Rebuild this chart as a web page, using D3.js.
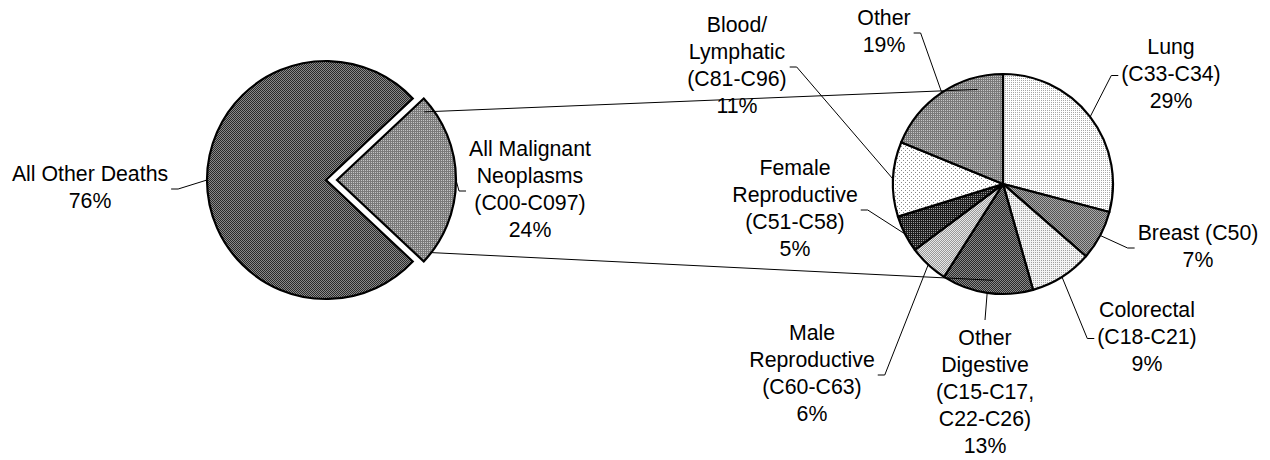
<!DOCTYPE html>
<meta charset='utf-8'>
<body style='margin:0'>
<script src='https://d3js.org/d3.v7.min.js'></script>
<script>
  const width = 1270;
  const height = 460;

  // left pie: all deaths
  const causeNames = [['All Malignant', 'Neoplasms', '(C00-C097)'], ['All Other Deaths']];
  const causeValues = [24, 76];
  const causeFills = ['midGray', 'darkGray'];

  // right pie: malignant neoplasms broken down by site
  const siteNames = [
    ['Lung', '(C33-C34)'],
    ['Breast (C50)'],
    ['Colorectal', '(C18-C21)'],
    ['Other', 'Digestive', '(C15-C17,', 'C22-C26)'],
    ['Male', 'Reproductive', '(C60-C63)'],
    ['Female', 'Reproductive', '(C51-C58)'],
    ['Blood/', 'Lymphatic', '(C81-C96)'],
    ['Other']
  ];
  const siteValues = [29.1, 7.3, 9.2, 13.4, 5.8, 5.4, 11.0, 18.8];
  const siteFills = ['lungDots', 'breastGray', 'colorectalDots', 'darkGray', 'lightChecker', 'veryDark', 'sparseDots', 'midGray'];

  // label placement (center x, first baseline, side the leader attaches to)
  const causeLabelPos = [
    { x: 530, y: 156, side: 'left' },
    { x: 90, y: 181, side: 'right' }
  ];
  const siteLabelPos = [
    { x: 1171, y: 54, side: 'left' },
    { x: 1198, y: 240, side: 'left' },
    { x: 1147, y: 317, side: 'left' },
    { x: 985, y: 345, side: 'top' },
    { x: 812, y: 340, side: 'right' },
    { x: 795, y: 175, side: 'right' },
    { x: 737, y: 32, side: 'right' },
    { x: 884, y: 25, side: 'right' }
  ];

  const left = { cx: 326, cy: 180, r: 119, explode: 11 };
  const right = { cx: 1003, cy: 184, r: 110 };
  const lineHeight = 27;
  const fontSize = 21.3;

  // excel-like pattern fills
  const patterns = {
    darkGray: { size: 2, bg: '#8a8a8a', fg: '#2a2a2a', cells: [[0, 0], [1, 1]] },
    midGray: { size: 2, bg: '#7a7a7a', fg: '#c4c4c4', cells: [[0, 0]] },
    breastGray: { size: 2, bg: '#555555', fg: '#a8a8a8', cells: [[0, 0], [1, 1]] },
    veryDark: { size: 2, bg: '#1e1e1e', fg: '#9a9a9a', cells: [[0, 0]] },
    lightChecker: { size: 2, bg: '#e8e8e8', fg: '#9a9a9a', cells: [[0, 0], [1, 1]] },
    lungDots: { size: 2, bg: '#ffffff', fg: '#a8a8a8', cells: [[0, 0]] },
    colorectalDots: { size: 2, bg: '#f4f4f4', fg: '#a0a0a0', cells: [[0, 0]] },
    sparseDots: { size: 4, bg: '#ffffff', fg: '#888888', cells: [[0, 0], [2, 2]] }
  };

  const rad = d => d * Math.PI / 180;
  const polar = (c, a, r) => [c.cx + r * Math.sin(a), c.cy - r * Math.cos(a)];

  const svg = d3.select('body').append('svg')
    .attr('width', width)
    .attr('height', height)
    .style('font-family', "'Liberation Sans', Arial, sans-serif")
    .style('font-size', fontSize + 'px');

  const defs = svg.append('defs');
  Object.entries(patterns).forEach(([id, p]) => {
    const pat = defs.append('pattern')
      .attr('id', id)
      .attr('patternUnits', 'userSpaceOnUse')
      .attr('width', p.size)
      .attr('height', p.size);
    pat.append('rect')
      .attr('width', p.size)
      .attr('height', p.size)
      .attr('fill', p.bg);
    p.cells.forEach(([x, y]) => {
      pat.append('rect')
        .attr('x', x).attr('y', y)
        .attr('width', 1).attr('height', 1)
        .attr('fill', p.fg);
    });
  });

  // ---- left pie ----
  const causeSpan = rad(360 * causeValues[0] / d3.sum(causeValues));
  const leftPie = d3.pie().sort(null)
    .startAngle(rad(90) - causeSpan / 2)
    .endAngle(rad(90) - causeSpan / 2 + 2 * Math.PI);
  const leftArcs = leftPie(causeValues);
  const leftArc = d3.arc().innerRadius(0).outerRadius(left.r);

  const offsetOf = (d, i) => {
    if (i !== 0) return [0, 0];
    const m = (d.startAngle + d.endAngle) / 2;
    return [left.explode * Math.sin(m), -left.explode * Math.cos(m)];
  };

  svg.append('g')
    .selectAll('path')
    .data(leftArcs)
    .join('path')
      .attr('transform', (d, i) => {
        const o = offsetOf(d, i);
        return `translate(${left.cx + o[0]}, ${left.cy + o[1]})`;
      })
      .attr('d', leftArc)
      .attr('fill', (d, i) => `url(#${causeFills[i]})`)
      .attr('stroke', '#000')
      .attr('stroke-width', 2.2)
      .attr('stroke-linejoin', 'miter');

  // ---- right pie ----
  const rightPie = d3.pie().sort(null);
  const rightArcs = rightPie(siteValues);
  const rightArc = d3.arc().innerRadius(0).outerRadius(right.r);

  svg.append('g')
    .attr('transform', `translate(${right.cx}, ${right.cy})`)
    .selectAll('path')
    .data(rightArcs)
    .join('path')
      .attr('d', rightArc)
      .attr('fill', (d, i) => `url(#${siteFills[i]})`)
      .attr('stroke', '#000')
      .attr('stroke-width', 2.2)
      .attr('stroke-linejoin', 'round');

  // connector lines between the two pies
  const malignant = leftArcs[0];
  const wedge = { cx: left.cx + offsetOf(malignant, 0)[0], cy: left.cy + offsetOf(malignant, 0)[1] };
  const connectors = [
    [polar(wedge, rad(52), left.r * 0.93), polar(right, rad(345), right.r * 0.89)],
    [polar(wedge, rad(128), left.r * 0.99), polar(right, rad(186), right.r * 0.88)]
  ];

  // ---- labels with leader lines ----
  const pctFormat = d3.format('.0%');
  const labels = svg.append('g');
  const leaders = svg.append('g')
    .attr('fill', 'none')
    .attr('stroke', '#000')
    .attr('stroke-width', 1);

  function addLabel(lines, pos, anchor) {
    const t = labels.append('text')
      .attr('text-anchor', 'middle')
      .attr('fill', '#000');
    lines.forEach((s, k) => {
      t.append('tspan')
        .attr('x', pos.x)
        .attr('y', pos.y + k * lineHeight)
        .text(s);
    });
    const w = d3.max(t.selectAll('tspan').nodes(), n => n.getComputedTextLength());
    const top = pos.y - 16;
    const bottom = pos.y + lineHeight * (lines.length - 1) + 5;
    const midY = (top + bottom) / 2;
    let pts;
    if (pos.side === 'left') {
      const x0 = pos.x - w / 2 - 3;
      pts = [anchor, [x0 - 7, midY], [x0, midY]];
    } else if (pos.side === 'right') {
      const x0 = pos.x + w / 2 + 3;
      pts = [anchor, [x0 + 7, midY], [x0, midY]];
    } else {
      pts = [anchor, [pos.x, top - 9]];
    }
    leaders.append('path').attr('d', d3.line()(pts));
  }

  const causeTotal = d3.sum(causeValues);
  leftArcs.forEach((d, i) => {
    const o = offsetOf(d, i);
    const c = { cx: left.cx + o[0], cy: left.cy + o[1] };
    const m = (d.startAngle + d.endAngle) / 2;
    addLabel(causeNames[i].concat(pctFormat(causeValues[i] / causeTotal)), causeLabelPos[i], polar(c, m, left.r));
  });

  const siteTotal = d3.sum(siteValues);
  rightArcs.forEach((d, i) => {
    const m = (d.startAngle + d.endAngle) / 2;
    addLabel(siteNames[i].concat(pctFormat(siteValues[i] / siteTotal)), siteLabelPos[i], polar(right, m, right.r));
  });

  svg.append('g')
    .selectAll('line')
    .data(connectors)
    .join('line')
      .attr('x1', d => d[0][0])
      .attr('y1', d => d[0][1])
      .attr('x2', d => d[1][0])
      .attr('y2', d => d[1][1])
      .attr('stroke', '#000')
      .attr('stroke-width', 1);
</script>
